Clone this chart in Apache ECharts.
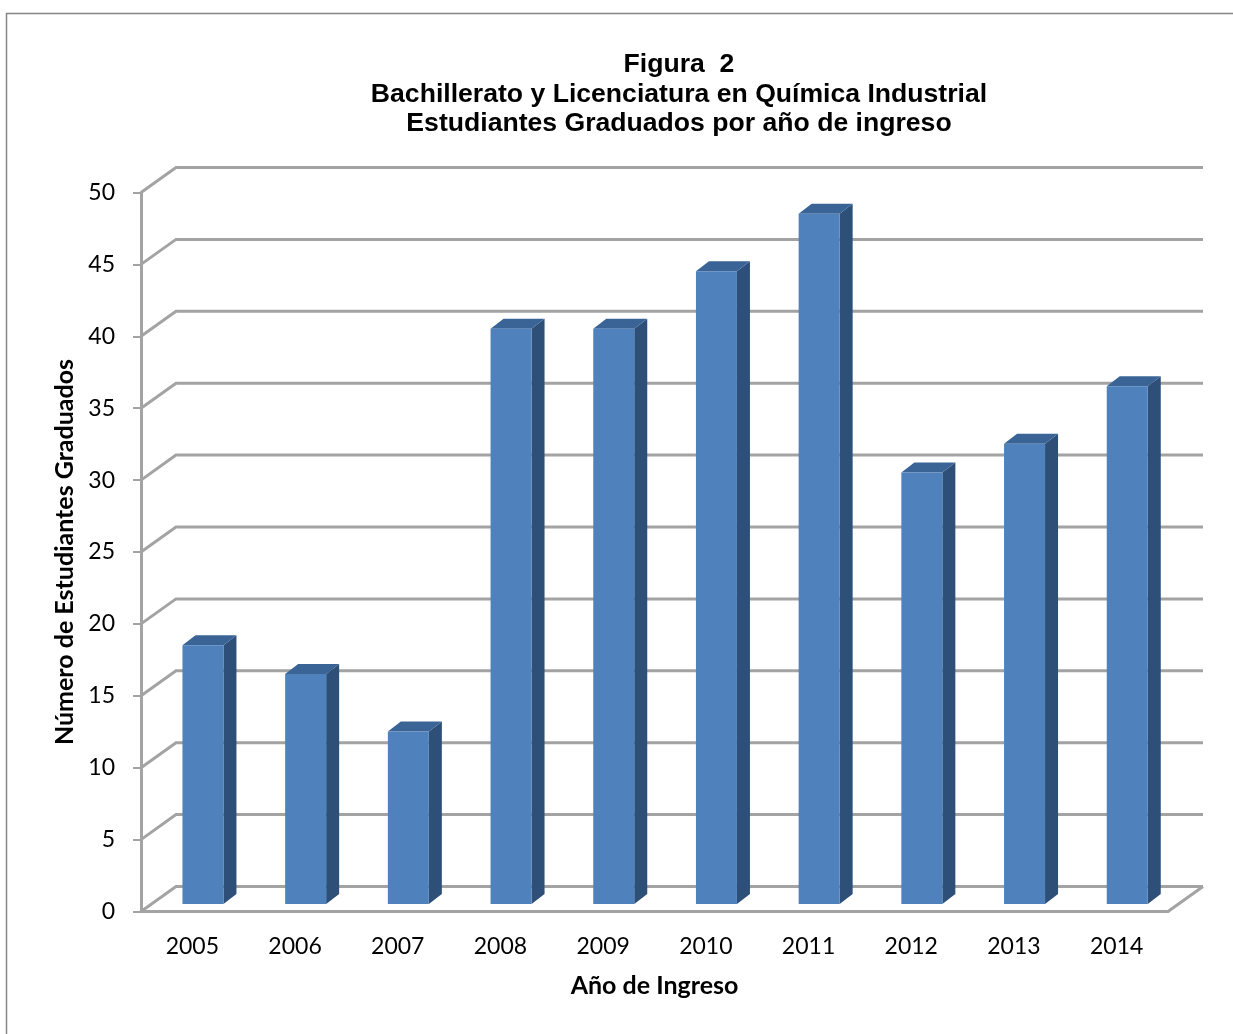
<!DOCTYPE html>
<html>
<head>
<meta charset="utf-8">
<style>html,body{margin:0;padding:0;background:#fff}#chart{width:1233px;height:1034px}</style>
<script src="https://cdn.jsdelivr.net/npm/echarts@6/dist/echarts.min.js"></script>
</head>
<body>
<div id="chart"></div>
<script>
// Graduates per entry year
const years = ['2005','2006','2007','2008','2009','2010','2011','2012','2013','2014'];
const graduates = [18,16,12,40,40,44,48,30,32,36];
const yTicks = [0,5,10,15,20,25,30,35,40,45,50];
const titleLines = ['Figura  2','Bachillerato y Licenciatura en Química Industrial','Estudiantes Graduados por año de ingreso'];
const yName = 'Número de Estudiantes Graduados';
const xName = 'Año de Ingreso';

// Pseudo-3D projection of the chart box
const WALL_DX = 35, WALL_DY = -25;   // back wall relative to the front plane
const BAR_DX = 10.6, BAR_DY = -7.5;  // bars stand partway into the box
const DEPTH_DX = 13, DEPTH_DY = -10; // depth of each column
const BAR_W = 41;
const GRID_COLOR = '#a3a3a3';
const FACE = '#4f81bd', TOP = '#3a6496', SIDE = '#2d4f78';

const gridLeft = 141, gridRight = 1168, gridTop = 192.5, gridBottom = 911.5;

const chart = echarts.init(document.getElementById('chart'), null, {renderer:'canvas'});

const lineStyle = {stroke: GRID_COLOR, lineWidth: 3, fill: null, lineJoin:'miter'};

chart.setOption({
  animation: false,
  backgroundColor: '#fff',
  title: {
    text: titleLines.join('\n'),
    left: 674, top: 45, textAlign: 'center',
    textStyle: {fontFamily:'"Liberation Sans"', fontWeight:'bold', fontSize:26.6, lineHeight:29.5, color:'#000'}
  },
  graphic: [{
    type:'polyline', silent:true, z:-1,
    shape:{points:[[6.5,1034],[6.5,13.5],[1233,13.5]]},
    style:{stroke:'#868686', lineWidth:1.5, fill:null}
  }],
  grid: {left:gridLeft, top:gridTop, width:gridRight-gridLeft, height:gridBottom-gridTop, containLabel:false},
  xAxis: {
    type:'category', data:years, z:5,
    name:xName, nameLocation:'middle', nameGap:62,
    nameTextStyle:{fontFamily:'Lato', fontWeight:'bold', fontSize:25, color:'#000'},
    axisLine:{show:true, lineStyle:{color:GRID_COLOR, width:3}},
    axisTick:{show:false},
    axisLabel:{fontFamily:'Lato', fontSize:23, color:'#000', margin:24},
    splitLine:{show:false}
  },
  yAxis: {
    type:'value', min:0, max:50, interval:5, z:5,
    name:yName, nameLocation:'middle', nameGap:62, nameRotate:90,
    nameTextStyle:{fontFamily:'Lato', fontWeight:'bold', fontSize:25, color:'#000'},
    axisLine:{show:true, onZero:false, lineStyle:{color:GRID_COLOR, width:3}},
    axisTick:{show:true, length:8, lineStyle:{color:GRID_COLOR, width:2}},
    axisLabel:{fontFamily:'Lato', fontSize:23, color:'#000', margin:26, padding:[5,0,0,0]},
    splitLine:{show:false}
  },
  series: [
    {
      // Back wall and floor: one bent line per tick value
      type:'custom', coordinateSystem:'cartesian2d', z:1, silent:true, clip:false,
      data: yTicks.map(v => [0, v]),
      encode:{x:0, y:1},
      renderItem(params, api) {
        const v = api.value(1);
        const y = api.coord([0, v])[1];
        const children = [{
          type:'polyline', silent:true,
          shape:{points:[[gridLeft,y],[gridLeft+WALL_DX,y+WALL_DY],[gridRight+WALL_DX,y+WALL_DY]]},
          style:lineStyle
        }];
        if (v === 0) {
          children.push({
            type:'line', silent:true,
            shape:{x1:gridRight,y1:y,x2:gridRight+WALL_DX,y2:y+WALL_DY},
            style:lineStyle
          });
        }
        return {type:'group', children};
      }
    },
    {
      // Columns: front face, top and side
      type:'custom', coordinateSystem:'cartesian2d', z:3, silent:true, clip:false,
      data: graduates.map((v,i) => [i, v]),
      encode:{x:0, y:1},
      renderItem(params, api) {
        const top = api.coord([api.value(0), api.value(1)]);
        const base = api.coord([api.value(0), 0]);
        const x0 = top[0] + BAR_DX - BAR_W/2, x1 = x0 + BAR_W;
        const yT = top[1] + BAR_DY, yB = base[1] + BAR_DY;
        return {type:'group', children:[
          {type:'polygon', silent:true,
           shape:{points:[[x1,yT],[x1+DEPTH_DX,yT+DEPTH_DY],[x1+DEPTH_DX,yB+DEPTH_DY],[x1,yB]]},
           style:{fill:SIDE}},
          {type:'polygon', silent:true,
           shape:{points:[[x0,yT],[x0+DEPTH_DX,yT+DEPTH_DY],[x1+DEPTH_DX,yT+DEPTH_DY],[x1,yT]]},
           style:{fill:TOP}},
          {type:'rect', silent:true,
           shape:{x:x0,y:yT,width:BAR_W,height:yB-yT},
           style:{fill:FACE}}
        ]};
      }
    }
  ]
});
</script>
</body>
</html>
